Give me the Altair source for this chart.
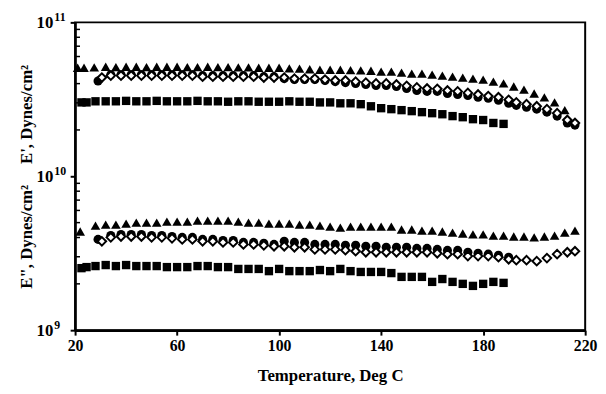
import altair as alt
import pandas as pd

# Moduli are given in units of 1e9 dynes/cm^2; temperatures in deg C

# ---- E' (upper group) ----
t_up_tri = [21, 23.5, 27.5, 32, 36, 40, 44, 48, 52, 56, 60, 64, 68, 72, 76, 80, 84, 88, 92, 96, 100,
            104, 108, 112, 116, 120, 124, 128, 132, 136, 140, 144, 148, 152, 156, 160, 164, 168, 172,
            176, 180, 184, 188, 192, 196, 200, 204, 208, 212]
e_up_tri = [50.7, 50.7, 51.0, 51.5, 51.2, 51.5, 51.5, 51.2, 51.5, 51.5, 51.5, 51.2, 51.2, 51.5, 51.2,
            51.2, 51.0, 51.0, 50.7, 50.7, 50.7,
            50.3, 50.0, 49.6, 49.2, 49.2, 49.2, 49.0, 48.8, 48.5, 47.8, 47.8, 47.1, 46.4, 46.4, 45.7,
            45.1, 44.4, 43.8, 43.1, 42.5, 41.2, 40.1, 38.3, 36.6, 34.5, 32.6, 30.2, 26.9]

t_up_dia = [30.5, 34, 38, 42, 46, 50, 54, 58, 62, 66, 70, 74, 78, 82, 86, 90, 94, 98, 102, 106, 110,
            114, 118, 122, 126, 130, 134, 138, 142, 146, 150, 154, 158, 162, 166, 170, 174, 178, 182,
            186, 190, 193, 197, 201, 205, 209, 213, 216]
e_up_dia = [43.8, 45.1, 45.1, 45.1, 45.1, 45.1, 45.1, 45.1, 45.1, 45.1, 44.4, 44.4, 44.4, 44.4, 44.4,
            44.4, 43.8, 43.8, 43.8, 43.1, 43.1, 43.1, 42.5, 41.9, 41.9, 41.2, 40.6, 40.1, 40.1, 39.5,
            38.7, 37.8, 37.2, 37.0, 36.1, 35.6, 34.8, 34.0, 33.2, 32.6, 31.4, 30.2, 29.4, 28.5, 27.3,
            25.7, 23.2, 22.2]

t_up_cir = [29, 34, 38, 42, 46, 50, 54, 58, 62, 66, 70, 74, 78, 82, 86, 90, 94, 98, 102, 106, 110,
            114, 118, 122, 126, 130, 134, 138, 142, 146, 150, 154, 158, 162, 166, 170, 174, 178, 182,
            186, 190, 193, 197, 201, 205, 209, 213, 216]
e_up_cir = [41.6, 45.7, 45.7, 45.7, 45.7, 45.7, 45.7, 45.7, 45.7, 45.7, 45.1, 45.1, 45.1, 45.1, 45.1,
            45.1, 44.4, 44.4, 43.1, 42.5, 42.5, 42.5, 41.9, 41.2, 40.6, 40.1, 39.5, 38.9, 38.9, 38.3,
            37.2, 36.1, 35.6, 35.6, 34.5, 34.0, 33.5, 32.6, 32.1, 31.2, 29.8, 28.9, 28.1, 27.3, 26.1,
            24.6, 22.2, 21.5]

t_up_sq = [22.5, 24.5, 28, 32, 36, 40, 44, 48, 52, 56, 60, 64, 68, 72, 76, 80, 84, 88, 92, 96, 100,
           104, 108, 112, 116, 120, 124, 128, 132, 136, 140, 144, 148, 152, 156, 160, 164, 168, 172,
           176, 180, 184, 188]
e_up_sq = [30.2, 30.2, 30.7, 30.7, 30.7, 30.9, 30.7, 30.7, 30.9, 30.7, 30.7, 30.7, 30.9, 30.7, 30.7,
           30.5, 30.7, 30.7, 30.5, 30.5, 30.5, 30.7, 30.5, 30.5, 30.2,
           30.2, 29.8, 29.8, 29.4, 28.5, 27.7, 27.3, 26.9, 26.5, 26.1, 25.7, 25.3, 24.6, 24.2, 23.5,
           23.2, 22.2, 21.9]

# ---- E'' (lower group) ----
t_lo_tri = [22, 28, 32, 36, 40, 44, 48, 52, 56, 60, 64, 68, 72, 76, 80, 84, 88, 92, 96, 100, 104,
            108, 112, 116, 120, 124, 128, 132, 136, 140, 144, 148, 152, 156, 160, 164, 168, 172, 176,
            180, 184, 188, 192, 196, 200, 204, 208, 212, 216]
e_lo_tri = [4.38, 4.78, 4.85, 4.85, 4.92, 5.00, 5.00, 5.00, 5.07, 5.07, 5.07, 5.15, 5.15, 5.15, 5.15,
            5.07, 5.00, 5.00, 4.92, 4.92, 4.92, 4.85, 4.85, 4.78, 4.71, 4.64, 4.71, 4.71, 4.71, 4.71,
            4.71, 4.51, 4.51, 4.44, 4.44, 4.38, 4.31, 4.25, 4.19, 4.19, 4.12, 4.12, 4.06, 4.06, 4.01,
            4.06, 4.12, 4.31, 4.44]

t_lo_dia = [30.5, 34, 38, 42, 46, 50, 54, 58, 62, 66, 70, 74, 78, 82, 86, 90, 94, 98, 102, 106, 110,
            114, 118, 122, 126, 130, 134, 138, 142, 146, 150, 154, 158, 162, 166, 170, 174, 178, 182,
            186, 190, 193, 197, 201, 205, 209, 213, 216]
e_lo_dia = [3.78, 4.01, 4.06, 4.06, 4.06, 4.01, 4.01, 3.95, 3.89, 3.89, 3.78, 3.78, 3.72, 3.72, 3.61,
            3.61, 3.56, 3.51, 3.51, 3.46, 3.46, 3.35, 3.35, 3.35, 3.31, 3.26, 3.21, 3.21, 3.21, 3.21,
            3.21, 3.21, 3.21, 3.16, 3.12, 3.12, 3.03, 3.03, 3.03, 2.98, 2.89, 2.85, 2.85, 2.81, 2.94,
            3.12, 3.21, 3.26]

t_lo_cir = [29, 34, 38, 42, 46, 50, 54, 58, 62, 66, 70, 74, 78, 82, 86, 90, 94, 98, 102, 106, 110,
            114, 118, 122, 126, 130, 134, 138, 142, 146, 150, 154, 158, 162, 166, 170, 174, 178, 182,
            186, 190]
e_lo_cir = [3.89, 4.12, 4.19, 4.19, 4.19, 4.12, 4.12, 4.06, 4.01, 4.01, 3.89, 3.89, 3.83, 3.83, 3.72,
            3.72, 3.67, 3.61, 3.78, 3.72, 3.72, 3.61, 3.61, 3.61, 3.56, 3.56, 3.51, 3.51, 3.46, 3.46,
            3.46, 3.40, 3.40, 3.35, 3.30, 3.30, 3.21, 3.16, 3.12, 3.07, 2.98]

t_lo_sq = [22.5, 24.5, 28, 32, 36, 40, 44, 48, 52, 56, 60, 64, 68, 72, 76, 80, 84, 88, 92, 96, 100,
           104, 108, 112, 116, 120, 124, 128, 132, 136, 140, 144, 148, 152, 156, 160, 164, 168, 172,
           176, 180, 184, 188]
e_lo_sq = [2.53, 2.57, 2.61, 2.65, 2.61, 2.65, 2.61, 2.61, 2.61, 2.57, 2.57, 2.57, 2.61, 2.61, 2.57,
           2.57, 2.50, 2.50, 2.50, 2.42, 2.50, 2.42, 2.42, 2.42, 2.46, 2.42, 2.50, 2.42, 2.39, 2.39,
           2.39, 2.35, 2.22, 2.22, 2.22, 2.06, 2.15, 2.06, 2.00, 1.94, 2.00, 2.06, 2.03]

# axis tick values / labels
x_ticks = [20, 60, 100, 140, 180, 220]
decades = [1e9, 1e10, 1e11]
decade_base = ["10", "10", "10"]
decade_exp = ["9", "10", "11"]
minor_ticks = [2e9, 3e9, 4e9, 5e9, 6e9, 7e9, 8e9, 9e9, 2e10, 3e10, 4e10, 5e10, 6e10, 7e10, 8e10, 9e10]

FONT = "Liberation Serif"
NB = "\u00a0"
y_title = "E\"," + NB + "Dynes/cm\u00b2" + NB * 5 + "E'," + NB + "Dynes/cm\u00b2"


def frame(ts, es):
    return pd.DataFrame({"T": ts, "E": [e * 1e9 for e in es]})


x_enc = alt.X(
    "T:Q",
    scale=alt.Scale(domain=[20, 220], nice=False, zero=False),
    axis=alt.Axis(
        values=x_ticks, format="d", grid=False, tickSize=5, tickWidth=2, tickColor="black",
        domainColor="black", domainWidth=2.5, labelFont=FONT, labelFontSize=16,
        labelFontWeight="bold", labelColor="black", labelPadding=3, labelFlush=False,
        labelOverlap=False, labelBound=False,
        title="Temperature, Deg C", titleFont=FONT, titleFontSize=17, titleFontWeight="bold",
        titleColor="black", titleX=258.5, titleY=46, titleBaseline="middle", titleAlign="center",
    ),
)
y_enc = alt.Y(
    "E:Q",
    scale=alt.Scale(type="log", domain=[1e9, 1e11], nice=False),
    axis=alt.Axis(
        values=decades, labels=False, grid=False, tickSize=5, tickWidth=2, tickColor="black",
        domainColor="black", domainWidth=2.5,
        title=y_title, titleFont=FONT, titleFontSize=17,
        titleFontWeight="bold", titleColor="black", titleAngle=270, titleX=-49, titleY=156,
        titleAlign="center", titleBaseline="middle",
    ),
)


def circles(ts, es):
    return alt.Chart(frame(ts, es)).mark_point(
        shape="circle", filled=True, color="black", size=85, opacity=1
    ).encode(x=x_enc, y=y_enc)


def diamonds(ts, es):
    return alt.Chart(frame(ts, es)).mark_point(
        shape="diamond", filled=True, fill="white", stroke="black", strokeWidth=2, size=75, opacity=1
    ).encode(x=x_enc, y=y_enc)


def triangles(ts, es):
    return alt.Chart(frame(ts, es)).mark_point(
        shape="triangle-up", filled=True, color="black", size=95, opacity=1
    ).encode(x=x_enc, y=y_enc)


def squares(ts, es):
    return alt.Chart(frame(ts, es)).mark_point(
        shape="square", filled=True, color="black", size=72, opacity=1
    ).encode(x=x_enc, y=y_enc)


minor = alt.Chart(pd.DataFrame({"E": minor_ticks})).mark_rule(color="black", strokeWidth=1.5).encode(
    y=y_enc, x=alt.value(0), x2=alt.value(5)
)

dec_df = pd.DataFrame({"E": decades, "base": decade_base, "exp": decade_exp})
dec_base = alt.Chart(dec_df).mark_text(
    font=FONT, fontSize=17, fontWeight="bold", align="left", baseline="middle", color="black", dy=1
).encode(y=y_enc, x=alt.value(-39), text="base:N")
dec_exp = alt.Chart(dec_df).mark_text(
    font=FONT, fontSize=12, fontWeight="bold", align="left", baseline="middle", color="black", dy=-5
).encode(y=y_enc, x=alt.value(-21), text="exp:N")

chart = alt.layer(
    circles(t_up_cir, e_up_cir),
    diamonds(t_up_dia, e_up_dia),
    circles(t_lo_cir, e_lo_cir),
    diamonds(t_lo_dia, e_lo_dia),
    triangles(t_up_tri, e_up_tri),
    triangles(t_lo_tri, e_lo_tri),
    squares(t_up_sq, e_up_sq),
    squares(t_lo_sq, e_lo_sq),
    minor,
    dec_base,
    dec_exp,
).properties(
    width=517,
    height=312,
    padding={"left": 68, "top": 12, "right": 13, "bottom": 54},
    autosize=alt.AutoSizeParams(type="none"),
    background="white",
).configure_view(stroke="black", strokeWidth=2)

chart.save("out.html", embed_options={"renderer": "svg", "actions": False})
